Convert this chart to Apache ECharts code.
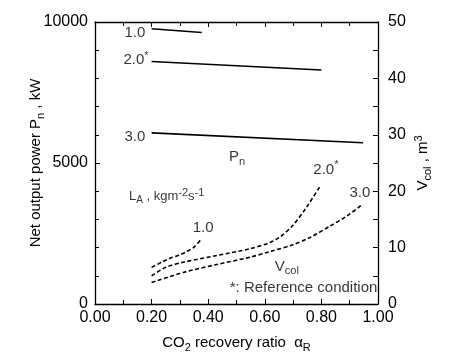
<!DOCTYPE html>
<html><head><meta charset="utf-8">
<script src="https://cdn.jsdelivr.net/npm/echarts@6/dist/echarts.min.js"></script>
<style>html,body{margin:0;padding:0;background:#fff}#c{width:450px;height:364px}</style>
</head><body><div id="c"></div>
<script>
// Net output power Pn (kW) vs CO2 recovery ratio, solid lines
const pn10 = [[0.2, 9760], [0.377, 9630]];
const pn20 = [[0.2, 8600], [0.8, 8300]];
const pn30 = [[0.2, 6070], [0.947, 5720]];
// Column volume Vcol (m3), dashed curves
const v10 = [[0.2, 6.5], [0.235, 7.4], [0.265, 8.1], [0.30, 8.7], [0.324, 9.3], [0.35, 10.1], [0.372, 11.3]];
const v20 = [[0.2, 5.0], [0.25, 6.5], [0.312, 7.4], [0.43, 8.6], [0.548, 9.8], [0.618, 10.9], [0.654, 11.9], [0.70, 14.0], [0.748, 17.2], [0.797, 21.0]];
const v30 = [[0.2, 3.8], [0.312, 5.6], [0.43, 7.0], [0.548, 8.3], [0.618, 9.3], [0.70, 10.5], [0.76, 11.8], [0.83, 13.8], [0.89, 15.6], [0.946, 17.7]];
// axis ranges
const xRange = [0, 1];
const pnRange = [0, 10000];
const vRange = [0, 50];

const FONT = '"Liberation Sans", Arial, sans-serif';
const C = '#000';
const FS = 15;
const rich = {
  t: {fontSize: FS, fontFamily: FONT, color: C, lineHeight: 20},
  sub: {fontSize: 11, fontFamily: FONT, color: C, verticalAlign: 'bottom', lineHeight: 12},
  sup: {fontSize: 11, fontFamily: FONT, color: C, verticalAlign: 'top', lineHeight: 12},
  s: {fontSize: 13, fontFamily: FONT, color: C, lineHeight: 18},
  ssub: {fontSize: 10, fontFamily: FONT, color: C, verticalAlign: 'bottom', lineHeight: 10},
  ssup: {fontSize: 11, fontFamily: FONT, color: C, verticalAlign: 'top', lineHeight: 11}
};
const tickLabel = {fontSize: 16, fontFamily: FONT, color: C};

function ann(x, y, text, yi) {
  return {
    type: 'scatter', yAxisIndex: yi, xAxisIndex: 0, symbolSize: 0, silent: true,
    data: [[x, y]],
    label: {show: true, position: 'inside', formatter: text, rich: rich, fontSize: FS, fontFamily: FONT, color: C}
  };
}

const lineSolid = {color: C, width: 1.6, type: 'solid'};
const lineDash = {color: C, width: 1.6, type: [4, 2.5]};
const axLine = {onZero: false, lineStyle: {color: C, width: 1.3}};

const chart = echarts.init(document.getElementById('c'));
chart.setOption({
  animation: false,
  backgroundColor: '#fff',
  grid: {left: 95, right: 72, top: 22, bottom: 60},
  xAxis: [{
    type: 'value', min: xRange[0], max: xRange[1], interval: 0.2, position: 'bottom',
    axisLine: axLine,
    axisTick: {inside: true, length: 5, lineStyle: {color: C}},
    minorTick: {show: true, splitNumber: 2, length: 4, lineStyle: {color: C}},
    splitLine: {show: false},
    axisLabel: Object.assign({margin: 6, formatter: v => v.toFixed(2)}, tickLabel),
    name: '{t|CO}{sub|2}{t| recovery ratio  α}{sub|R}', nameLocation: 'middle', nameGap: 29,
    nameMoveOverlap: false,
    nameTextStyle: {rich: rich}
  }, {
    type: 'value', min: xRange[0], max: xRange[1], interval: 0.2, position: 'top',
    axisLine: axLine,
    axisTick: {inside: true, length: 5, lineStyle: {color: C}},
    minorTick: {show: true, splitNumber: 2, length: 4, lineStyle: {color: C}},
    splitLine: {show: false}, axisLabel: {show: false}
  }],
  yAxis: [{
    type: 'value', min: pnRange[0], max: pnRange[1], interval: 5000, position: 'left',
    axisLine: Object.assign({show: true}, axLine),
    axisTick: {show: true, inside: true, length: 5, lineStyle: {color: C}},
    minorTick: {show: true, splitNumber: 5, length: 4, lineStyle: {color: C}},
    splitLine: {show: false},
    axisLabel: Object.assign({margin: 7, formatter: v => String(v)}, tickLabel),
    name: '{t|Net output power P}{sub|n}{t| , kW}', nameLocation: 'middle', nameGap: 49,
    nameMoveOverlap: false,
    nameTextStyle: {rich: rich}
  }, {
    type: 'value', min: vRange[0], max: vRange[1], interval: 10, position: 'right',
    axisLine: Object.assign({show: true}, axLine),
    axisTick: {show: true, inside: true, length: 5, lineStyle: {color: C}},
    minorTick: {show: true, splitNumber: 2, length: 5, lineStyle: {color: C}},
    splitLine: {show: false},
    axisLabel: Object.assign({margin: 10, formatter: v => String(v)}, tickLabel),
    name: '{t|V}{sub|col}{t| , m}{sup|3}', nameLocation: 'middle', nameGap: 35, nameRotate: 90,
    nameMoveOverlap: false,
    nameTextStyle: {rich: rich}
  }],
  series: [
    {type: 'line', data: pn10, yAxisIndex: 0, showSymbol: false, lineStyle: lineSolid},
    {type: 'line', data: pn20, yAxisIndex: 0, showSymbol: false, lineStyle: lineSolid},
    {type: 'line', data: pn30, yAxisIndex: 0, showSymbol: false, lineStyle: lineSolid},
    {type: 'line', data: v10, yAxisIndex: 1, showSymbol: false, smooth: 0.3, lineStyle: lineDash},
    {type: 'line', data: v20, yAxisIndex: 1, showSymbol: false, smooth: 0.3, lineStyle: lineDash},
    {type: 'line', data: v30, yAxisIndex: 1, showSymbol: false, smooth: 0.3, lineStyle: lineDash},
    ann(0.141, 9610, '{t|1.0}', 0),
    ann(0.145, 8650, '{t|2.0}{sup|*}', 0),
    ann(0.141, 5920, '{t|3.0}', 0),
    ann(0.502, 5213, '{t|P}{sub|n}', 0),
    ann(0.253, 3805, '{s|L}{ssub|A}{s| , kgm}{ssup|-2}{s|s}{ssup|-1}', 0),
    ann(0.382, 13.5, '{t|1.0}', 1),
    ann(0.816, 23.8, '{t|2.0}{sup|*}', 1),
    ann(0.936, 19.7, '{t|3.0}', 1),
    ann(0.678, 6.6, '{t|V}{sub|col}', 1),
    ann(0.737, 2.8, '{t|*: Reference condition}', 1)
  ]
});
</script></body></html>
